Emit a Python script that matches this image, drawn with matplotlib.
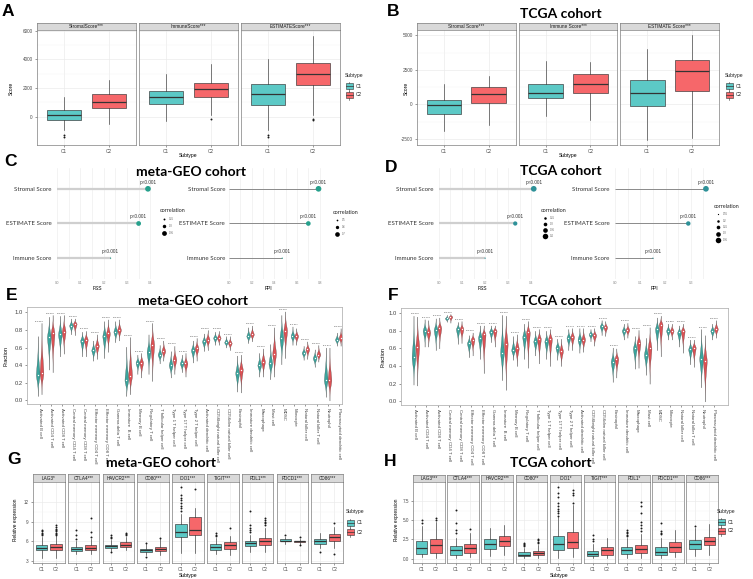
import numpy as np
import matplotlib
matplotlib.use("Agg")
import matplotlib.pyplot as plt
from matplotlib.patches import Rectangle

W, H = 753, 579
plt.rcParams["font.family"] = ["Liberation Sans", "DejaVu Sans"]

C1_COL = "#5cc9c6"
C2_COL = "#f6676a"
V1_COL = "#2f9f97"
V2_COL = "#d9474b"

# ---------------- A / B: ESTIMATE scores by subtype ----------------
a_names = ["StromalScore***", "ImmuneScore***", "ESTIMATEScore***"]
# (whislo, q1, median, q3, whishi, fliers)
a_c1 = [(-900, -200, 150, 500, 1400, [-1300, -1400]),
        (-300, 900, 1400, 1800, 3000, []),
        (-900, 850, 1600, 2250, 4000, [-1300, -1400])]
a_c2 = [(-500, 600, 1050, 1550, 2550, []),
        (100, 1400, 1950, 2350, 3650, [-150]),
        (100, 2200, 3000, 3750, 5600, [-150, -250])]

b_names = ["Stromal Score***", "Immune Score***", "ESTIMATE Score***"]
b_c1 = [(-1900, -700, -50, 350, 1500, []),
        (-800, 450, 850, 1500, 3150, []),
        (-2600, -100, 800, 1750, 4000, [])]
b_c2 = [(-1500, 100, 750, 1250, 2050, []),
        (-1100, 850, 1500, 2200, 3100, []),
        (-2400, 950, 2400, 3200, 5000, [])]

# ---------------- C / D: lollipop correlations ----------------
score_names = ["Stromal Score", "ESTIMATE Score", "Immune Score"]
c_fss = [0.39, 0.35, 0.23]
c_fpi = [0.79, 0.70, 0.47]
d_fss = [0.41, 0.33, 0.20]
d_fpi = [0.36, 0.29, 0.15]
c_fss_breaks = [0.25, 0.30, 0.35]
c_fpi_breaks = [0.5, 0.6, 0.7]
d_fss_breaks = [0.25, 0.30, 0.35, 0.40]
d_fpi_breaks = [0.15, 0.20, 0.25, 0.30, 0.35]

# ---------------- E / F: immune cell fractions ----------------
cells = ["Activated B cell", "Activated CD4 T cell", "Activated CD8 T cell",
         "Central memory CD4 T cell", "Central memory CD8 T cell",
         "Effector memeory CD4 T cell", "Effector memeory CD8 T cell",
         "Gamma delta T cell", "Immature  B cell", "Memory B cell",
         "Regulatory T cell", "T follicular helper cell", "Type 1 T helper cell",
         "Type 17 T helper cell", "Type 2 T helper cell", "Activated dendritic cell",
         "CD56bright natural killer cell", "CD56dim natural killer cell",
         "Eosinophil", "Immature dendritic cell", "Macrophage", "Mast cell",
         "MDSC", "Monocyte", "Natural killer cell", "Natural killer T cell",
         "Neutrophil", "Plasmacytoid dendritic cell"]

e_c1_med = [0.29, 0.72, 0.75, 0.85, 0.68, 0.57, 0.73, 0.78, 0.23, 0.43, 0.55, 0.52, 0.40, 0.42,
            0.57, 0.67, 0.71, 0.66, 0.31, 0.73, 0.40, 0.42, 0.71, 0.73, 0.54, 0.48, 0.23, 0.69]
e_c1_lo = [0.05, 0.35, 0.50, 0.75, 0.50, 0.45, 0.48, 0.66, 0.05, 0.30, 0.30, 0.42, 0.26, 0.32,
           0.43, 0.56, 0.63, 0.60, 0.10, 0.65, 0.27, 0.24, 0.41, 0.63, 0.46, 0.38, 0.04, 0.62]
e_c1_hi = [0.73, 0.95, 0.96, 0.93, 0.78, 0.68, 0.90, 0.90, 0.61, 0.52, 0.75, 0.63, 0.56, 0.52,
           0.68, 0.76, 0.78, 0.73, 0.51, 0.83, 0.54, 0.64, 0.97, 0.84, 0.62, 0.58, 0.60, 0.77]
e_c2_med = [0.31, 0.76, 0.78, 0.87, 0.69, 0.62, 0.76, 0.80, 0.28, 0.43, 0.63, 0.56, 0.46, 0.42,
            0.59, 0.69, 0.71, 0.65, 0.35, 0.75, 0.44, 0.53, 0.79, 0.73, 0.58, 0.52, 0.23, 0.71]
e_c2_lo = [0.07, 0.32, 0.53, 0.74, 0.50, 0.47, 0.55, 0.68, 0.07, 0.26, 0.22, 0.45, 0.30, 0.27,
           0.45, 0.57, 0.63, 0.57, 0.09, 0.67, 0.27, 0.27, 0.48, 0.63, 0.47, 0.44, 0.00, 0.62]
e_c2_hi = [0.88, 0.97, 0.97, 0.93, 0.79, 0.75, 0.92, 0.92, 0.72, 0.54, 0.88, 0.68, 0.62, 0.54,
           0.71, 0.80, 0.79, 0.73, 0.52, 0.85, 0.59, 0.83, 1.01, 0.82, 0.67, 0.63, 0.60, 0.82]
e_pvals = ["p=0.086", "p<0.001", "p<0.001", "p<0.001", "p=0.218", "p<0.001", "p<0.001",
           "p<0.001", "p<0.001", "p=0.826", "p<0.001", "p<0.001", "p<0.001", "p=0.906",
           "p<0.001", "p<0.001", "p=0.588", "p=0.027", "p<0.001", "p<0.001", "p<0.001",
           "p<0.001", "p<0.001", "p=0.611", "p<0.001", "p<0.001", "p=0.946", "p<0.001"]

f_c1_med = [0.50, 0.80, 0.81, 0.94, 0.82, 0.66, 0.72, 0.79, 0.55, 0.58, 0.73, 0.68, 0.68, 0.61,
            0.72, 0.70, 0.76, 0.85, 0.45, 0.80, 0.60, 0.53, 0.82, 0.80, 0.78, 0.59, 0.48, 0.80]
f_c1_lo = [0.19, 0.62, 0.58, 0.90, 0.65, 0.50, 0.48, 0.67, 0.24, 0.47, 0.48, 0.52, 0.48, 0.47,
           0.58, 0.55, 0.68, 0.75, 0.22, 0.70, 0.37, 0.30, 0.58, 0.70, 0.62, 0.42, 0.16, 0.70]
f_c1_hi = [0.97, 0.93, 0.94, 0.98, 0.90, 0.75, 0.86, 0.86, 0.98, 0.74, 0.88, 0.80, 0.80, 0.71,
           0.82, 0.83, 0.82, 0.92, 0.61, 0.88, 0.74, 0.72, 0.95, 0.88, 0.86, 0.70, 0.82, 0.88]
f_c2_med = [0.62, 0.78, 0.83, 0.96, 0.82, 0.70, 0.76, 0.80, 0.65, 0.60, 0.78, 0.71, 0.71, 0.57,
            0.73, 0.70, 0.75, 0.84, 0.48, 0.81, 0.66, 0.60, 0.87, 0.80, 0.80, 0.61, 0.46, 0.82]
f_c2_lo = [0.18, 0.62, 0.60, 0.89, 0.66, 0.52, 0.32, 0.62, 0.13, 0.40, 0.38, 0.43, 0.40, 0.40,
           0.58, 0.56, 0.63, 0.74, 0.27, 0.72, 0.38, 0.20, 0.51, 0.70, 0.55, 0.39, 0.00, 0.72]
f_c2_hi = [0.96, 0.92, 0.95, 0.99, 0.91, 0.78, 0.86, 0.86, 0.97, 0.76, 0.91, 0.82, 0.82, 0.71,
           0.83, 0.83, 0.83, 0.91, 0.60, 0.89, 0.81, 0.84, 0.97, 0.88, 0.88, 0.70, 0.75, 0.92]
f_pvals = ["p<0.001", "p=0.109", "p=0.038", "p<0.001", "p=0.608", "p<0.001", "p<0.001",
           "p=0.057", "p<0.001", "p=0.029", "p<0.001", "p<0.001", "p<0.001", "p<0.001",
           "p=0.149", "p=0.190", "p=0.082", "p=0.043", "p=0.097", "p=0.004", "p<0.001",
           "p<0.001", "p<0.001", "p=0.891", "p<0.001", "p=0.045", "p=0.116", "p<0.001"]

# ---------------- G / H: immune checkpoints ----------------
g_names = ["LAG3*", "CTLA4***", "HAVCR2***", "CD80***", "IDO1***",
           "TIGIT***", "PDL1***", "PDCD1***", "CD86***"]
g_c1 = [(3.45, 4.6, 4.95, 5.4, 6.7, [6.9, 7.1, 7.3, 7.5, 7.7]),
        (4.0, 4.45, 4.85, 5.15, 6.0, [6.3, 7.0, 7.65]),
        (4.5, 4.95, 5.25, 5.5, 6.2, [6.5, 6.7, 6.9, 4.3]),
        (3.97, 4.4, 4.65, 4.9, 5.6, [3.56, 5.76]),
        (4.2, 6.7, 7.4, 8.6, 10.1, [10.6, 11.0, 11.4, 11.8, 12.2, 12.6, 13.0, 14.2]),
        (4.0, 4.7, 5.15, 5.6, 6.5, [6.8, 7.0, 7.2]),
        (4.3, 5.35, 5.7, 6.0, 7.0, [7.4, 7.7, 8.0, 8.5, 10.6]),
        (5.65, 6.0, 6.1, 6.3, 6.6, [6.9]),
        (5.0, 5.65, 6.05, 6.4, 7.3, [4.4])]
g_c2 = [(3.5, 4.65, 5.15, 5.55, 6.8, [6.9, 7.1, 7.3, 7.5, 7.7, 7.9, 8.1, 8.4]),
        (4.0, 4.6, 5.05, 5.4, 6.3, [6.7, 7.4, 9.6]),
        (4.7, 5.1, 5.5, 5.85, 6.7, [6.9, 7.1, 7.3]),
        (3.9, 4.5, 4.9, 5.2, 6.3, [6.45]),
        (4.2, 6.9, 7.75, 9.7, 11.1, [14.0]),
        (3.9, 4.9, 5.4, 5.85, 6.8, [8.0]),
        (4.4, 5.45, 6.0, 6.5, 8.0, [8.4, 8.7, 9.0, 9.3, 9.6]),
        (5.5, 5.85, 6.0, 6.1, 6.4, [6.65, 5.4]),
        (5.0, 6.05, 6.7, 7.05, 8.2, [8.7, 4.0])]

h_names = ["LAG3***", "CTLA4***", "HAVCR2***", "CD80**", "IDO1*",
           "TIGIT***", "PDL1*", "PDCD1***", "CD86***"]
h_c1 = [(0.18, 0.55, 1.42, 2.31, 4.2, [4.7, 5.0]),
        (0.1, 0.53, 1.1, 1.64, 2.75, [3.4, 3.7, 4.6, 6.3]),
        (0.3, 1.2, 1.95, 2.53, 3.95, []),
        (0.04, 0.31, 0.49, 0.84, 1.42, [1.7, 1.8, 1.9, 2.0]),
        (0.1, 1.07, 1.87, 2.98, 5.4, [5.6, 5.9, 6.2, 6.5, 6.9, 7.3, 8.0, 8.5, 9.4]),
        (0.04, 0.31, 0.62, 0.98, 1.87, [2.3, 2.5, 3.1]),
        (0.04, 0.62, 1.07, 1.51, 2.75, [2.9, 3.1, 3.3, 3.5, 3.7]),
        (0.04, 0.49, 0.89, 1.51, 2.75, [3.2, 3.4, 3.6, 4.7]),
        (0.31, 1.29, 1.91, 2.4, 4.0, [4.2])]
h_c2 = [(0.1, 0.67, 1.78, 2.62, 4.75, [5.0, 5.3]),
        (0.18, 0.67, 1.42, 1.95, 3.4, [3.9]),
        (0.53, 1.64, 2.31, 2.98, 4.4, []),
        (0.1, 0.4, 0.67, 0.98, 1.78, [2.0, 2.2, 2.4, 2.5]),
        (0.18, 1.38, 2.22, 3.5, 7.0, [7.3, 8.3, 8.6, 8.9]),
        (0.04, 0.53, 1.07, 1.56, 2.75, []),
        (0.1, 0.67, 1.24, 1.73, 3.2, [3.6, 4.0, 4.4, 4.8, 6.0, 6.8, 7.4]),
        (0.18, 0.84, 1.56, 2.18, 3.73, []),
        (0.4, 1.73, 2.27, 2.84, 4.5, [])]

fig = plt.figure(figsize=(W / 100, H / 100), dpi=100)


def px_axes(x0, y0, x1, y1):
    return fig.add_axes([x0 / W, 1 - y1 / H, (x1 - x0) / W, (y1 - y0) / H])


ov = fig.add_axes([0, 0, 1, 1], zorder=20)
ov.set_xlim(0, W)
ov.set_ylim(H, 0)
ov.axis("off")
ov.patch.set_visible(False)


def label(x, y, s, **kw):
    ov.text(x, y, s, **kw)


def panel_letter(x, y, s):
    label(x, y, s, fontsize=12.5, fontweight="bold", ha="center", va="center")


def title(x, y, s):
    label(x, y, s, fontsize=10, fontweight="bold", ha="center", va="center",
          family=["Lato", "DejaVu Sans"])


def subtype_legend(x, y):
    label(x, y, "Subtype", fontsize=3.6, color="#222222", va="center")
    for k, (lab, col) in enumerate([("C1", C1_COL), ("C2", C2_COL)]):
        yy = y + 11 + k * 9
        ov.add_patch(Rectangle((x + 1, yy - 3), 7, 6, fc=col, ec="#333333", lw=0.4))
        ov.plot([x + 1, x + 8], [yy, yy], color="#333333", lw=0.5)
        ov.plot([x + 4.5, x + 4.5], [yy - 4.5, yy - 3], color="#333333", lw=0.4)
        ov.plot([x + 4.5, x + 4.5], [yy + 3, yy + 4.5], color="#333333", lw=0.4)
        label(x + 11, yy, lab, fontsize=3.4, color="#222222", va="center")


def facet_boxes(x0, x1, gap, sy0, py0, py1, names, c1, c2, ylim, yticks, ytl,
                box_w, fs):
    n = len(names)
    w = (x1 - x0 - gap * (n - 1)) / n
    for i, name in enumerate(names):
        left = x0 + i * (w + gap)
        sax = px_axes(left, sy0, left + w, py0)
        sax.set_facecolor("#d9d9d9")
        sax.set_xticks([])
        sax.set_yticks([])
        for sp in sax.spines.values():
            sp.set_color("#7f7f7f")
            sp.set_linewidth(0.5)
        sax.text(0.5, 0.5, name, ha="center", va="center", fontsize=fs,
                 color="#1a1a1a", transform=sax.transAxes)
        ax = px_axes(left, py0, left + w, py1)
        stats = []
        for lo, q1, med, q3, hi, fl in (c1[i], c2[i]):
            stats.append(dict(whislo=lo, q1=q1, med=med, q3=q3, whishi=hi, fliers=fl))
        bp = ax.bxp(stats, positions=[1, 2], widths=box_w, patch_artist=True,
                    showcaps=False,
                    boxprops=dict(edgecolor="#333333", linewidth=0.45),
                    medianprops=dict(color="#333333", linewidth=0.9),
                    whiskerprops=dict(color="#333333", linewidth=0.45),
                    flierprops=dict(marker="o", markersize=1.4,
                                    markerfacecolor="#1a1a1a",
                                    markeredgecolor="none"))
        for patch, col in zip(bp["boxes"], (C1_COL, C2_COL)):
            patch.set_facecolor(col)
        ax.set_xlim(0.4, 2.6)
        ax.set_ylim(ylim)
        ax.set_yticks(yticks)
        ax.set_yticks([(a + b) / 2 for a, b in zip(yticks[:-1], yticks[1:])],
                      minor=True)
        ax.set_xticks([1, 2])
        ax.set_xticklabels(["C1", "C2"])
        ax.grid(True, which="major", color="#ebebeb", lw=0.5)
        ax.grid(True, which="minor", axis="y", color="#f4f4f4", lw=0.3)
        ax.set_axisbelow(True)
        ax.tick_params(which="minor", length=0)
        ax.tick_params(labelsize=fs, colors="#4d4d4d", length=1.5, width=0.4, pad=1.5)
        if i == 0:
            ax.set_yticklabels(ytl)
        else:
            ax.tick_params(axis="y", labelleft=False, length=0)
        for sp in ax.spines.values():
            sp.set_color("#7f7f7f")
            sp.set_linewidth(0.5)


def lollipop(x0, y0, x1, y1, vals, breaks, xlim, xticks, line_col, line_w,
             pt_col, leg_x, leg_y, leg_step):
    ax = px_axes(x0, y0, x1, y1)
    ypos = [2, 1, 0]
    lo, hi = min(breaks + vals), max(breaks + vals)
    def size(v):
        return 0.8 + 16 * ((v - lo) / (hi - lo)) ** 1.3
    ax.hlines(ypos, 0, vals, color=line_col, lw=line_w, zorder=2)
    ax.scatter(vals, ypos, s=[size(v) for v in vals], color=pt_col, zorder=3,
               linewidths=0)
    for v, y in zip(vals, ypos):
        ax.text(v, y + 0.12, "p<0.001", ha="center", va="bottom", fontsize=3.4,
                color="#333333")
    ax.set_xlim(xlim)
    ax.set_ylim(-0.6, 2.6)
    ax.set_yticks(ypos)
    ax.set_yticklabels(score_names, family=["Lato", "DejaVu Sans"])
    ax.set_xticks(xticks)
    step = xticks[1] - xticks[0]
    ax.set_xticks([t + step / 2 for t in xticks], minor=True)
    ax.grid(True, which="both", axis="x", color="#ececec", lw=0.45)
    ax.set_axisbelow(True)
    ax.tick_params(axis="y", length=0, labelsize=4.4, colors="#333333", pad=2)
    ax.tick_params(axis="x", which="both", length=0, labelsize=2.3,
                   colors="#888888", pad=1.5)
    for sp in ax.spines.values():
        sp.set_visible(False)
    # size legend
    label(leg_x, leg_y, "correlation", fontsize=3.9, color="#222222", va="center",
          family=["Lato", "DejaVu Sans"])
    for k, b in enumerate(breaks):
        yy = leg_y + 8 + k * leg_step
        ov.scatter([leg_x + 4], [yy], s=size(b) * 1.0, color="black", linewidths=0)
        label(leg_x + 9, yy, f"{b:g}", fontsize=1.8, color="#555555", va="center")


def violins(x0, y0, x1, y1, xlim, ylim, meds1, lo1, hi1, meds2, lo2, hi2, pvals):
    ax = px_axes(x0, y0, x1, y1)
    hw = 0.17
    for i in range(len(cells)):
        for off, med, lo, hi, col in ((-0.17, meds1[i], lo1[i], hi1[i], V1_COL),
                                      (0.17, meds2[i], lo2[i], hi2[i], V2_COL)):
            ys = np.linspace(lo, hi, 80)
            t = np.where(ys < med, (med - ys) / max(med - lo, 1e-6),
                         (ys - med) / max(hi - med, 1e-6))
            half = hw * np.exp(-3.5 * t ** 2) * (1 - t) ** 0.9
            ax.fill_betweenx(ys, i + off - half, i + off + half, color=col,
                             lw=0.2, edgecolor="#3a3a3a", alpha=0.95, zorder=2)
            ax.scatter([i + off], [med], s=1.0, color="white", zorder=3, linewidths=0)
        top = max(hi1[i], hi2[i])
        ax.text(i, top + 0.015, pvals[i], ha="center", va="bottom", fontsize=1.7,
                color="#444444")
    ax.set_xlim(xlim)
    ax.set_ylim(ylim)
    ax.set_xticks(range(len(cells)))
    ax.set_xticklabels(cells, rotation=270, fontsize=3.2, color="#333333",
                       va="top", ha="center")
    ax.set_yticks([0, 0.2, 0.4, 0.6, 0.8, 1.0])
    ax.set_yticklabels(["0.0", "0.2", "0.4", "0.6", "0.8", "1.0"])
    ax.tick_params(axis="y", labelsize=4.2, colors="#444444", length=1.5, width=0.4,
                   pad=1.5)
    ax.tick_params(axis="x", length=1.5, width=0.4, pad=1.5, colors="#444444")
    for sp in ax.spines.values():
        sp.set_color("#b5b5b5")
        sp.set_linewidth(0.6)


# ---------- A ----------
panel_letter(8, 12, "A")
facet_boxes(37, 340, 3, 23, 29.5, 145, a_names, a_c1, a_c2, (-1970, 6080),
            [0, 2000, 4000, 6000], ["0", "2000", "4000", "6000"], 0.77, 3.4)
label(11, 88, "Score", fontsize=3.6, rotation=90, ha="center", va="center")
label(188, 156, "Subtype", fontsize=3.6, ha="center", va="center")
subtype_legend(345, 75)

# ---------- B ----------
panel_letter(393, 11, "B")
title(561, 14, "TCGA cohort")
facet_boxes(417, 719, 3, 23, 29.5, 145, b_names, b_c1, b_c2, (-2930, 5420),
            [-2500, 0, 2500, 5000], ["-2500", "0", "2500", "5000"], 0.77, 3.4)
label(406, 88, "Score", fontsize=3.6, rotation=90, ha="center", va="center")
label(568, 156, "Subtype", fontsize=3.6, ha="center", va="center")
subtype_legend(725, 75)

# ---------- C ----------
panel_letter(11, 161, "C")
title(191, 172, "meta-GEO cohort")
lollipop(57 - 2.5, 168, 162, 279, c_fss, c_fss_breaks, (-0.01, 0.427),
         [0.0, 0.1, 0.2, 0.3, 0.4], "#cfcfcf", 1.6, "#26a08c", 160, 211, 7)
lollipop(229 - 1.2, 168, 331, 279, c_fpi, c_fpi_breaks, (-0.01, 0.83),
         [0.0, 0.2, 0.4, 0.6, 0.8], "#8a8a8a", 0.7, "#26a08c", 333, 212, 7)
label(97, 289, "FSS", fontsize=3.6, ha="center", va="center")
label(268, 289, "FPI", fontsize=3.6, ha="center", va="center")

# ---------- D ----------
panel_letter(391, 167, "D")
title(561, 171, "TCGA cohort")
lollipop(439 - 2.4, 168, 543, 279, d_fss, d_fss_breaks, (-0.01, 0.435),
         [0.0, 0.1, 0.2, 0.3, 0.4], "#cfcfcf", 1.6, "#2e9198", 541, 210, 6)
lollipop(615 - 2.5, 168, 711, 279, d_fpi, d_fpi_breaks, (-0.01, 0.38),
         [0.0, 0.1, 0.2, 0.3], "#8a8a8a", 0.7, "#2e9198", 714, 206, 6.5)
label(482, 289, "FSS", fontsize=3.6, ha="center", va="center")
label(654, 289, "FPI", fontsize=3.6, ha="center", va="center")

# ---------- E ----------
panel_letter(12, 295, "E")
title(193, 301, "meta-GEO cohort")
violins(27, 307, 342, 404, (-1.14, 27.3), (-0.04, 1.06),
        e_c1_med, e_c1_lo, e_c1_hi, e_c2_med, e_c2_lo, e_c2_hi, e_pvals)
label(6, 356, "Fraction", fontsize=4, rotation=90, ha="center", va="center")

# ---------- F ----------
panel_letter(393, 295, "F")
title(561, 301, "TCGA cohort")
violins(401, 308, 728, 405, (-1.3, 28.26), (-0.04, 1.057),
        f_c1_med, f_c1_lo, f_c1_hi, f_c2_med, f_c2_lo, f_c2_hi, f_pvals)
label(383, 357, "Fraction", fontsize=4, rotation=90, ha="center", va="center")

# ---------- G ----------
panel_letter(14, 459, "G")
title(161, 463, "meta-GEO cohort")
facet_boxes(33, 343, 3.3, 474, 482, 563, g_names, g_c1, g_c2, (2.7, 15.0),
            [3, 6, 9, 12], ["3", "6", "9", "12"], 0.8, 3.3)
label(16, 520, "Relative expression", fontsize=3.4, rotation=90, ha="center",
      va="center")
label(188, 576, "Subtype", fontsize=3.6, ha="center", va="center")
subtype_legend(346, 512)

# ---------- H ----------
panel_letter(390, 462, "H")
title(551, 463, "TCGA cohort")
facet_boxes(413, 718, 2.65, 475, 482, 563, h_names, h_c1, h_c2, (-0.58, 10.0),
            [0, 2.5, 5, 7.5], ["0.0", "2.5", "5.0", "7.5"], 0.8, 3.3)
label(397, 520, "Relative expression", fontsize=3.4, rotation=90, ha="center",
      va="center")
label(559, 576, "Subtype", fontsize=3.6, ha="center", va="center")
subtype_legend(717, 511)

fig.savefig("out.png", dpi=100)
